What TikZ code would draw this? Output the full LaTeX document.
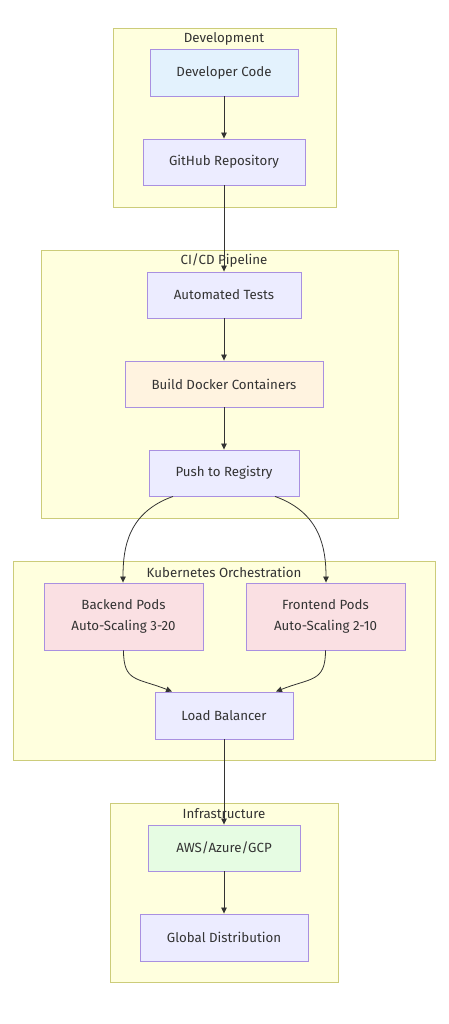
\documentclass[tikz,border=0pt]{standalone}
\usepackage{fontspec}
\setmainfont{Fira Sans}
\usetikzlibrary{arrows.meta}
\definecolor{clfill}{HTML}{FFFFDE}
\definecolor{cldraw}{HTML}{CCCC7A}
\definecolor{ndfill}{HTML}{ECECFF}
\definecolor{nddraw}{HTML}{A990E0}
\definecolor{txt}{HTML}{333333}
\definecolor{blue1}{HTML}{E3F2FD}
\definecolor{orange1}{HTML}{FFF3E0}
\definecolor{pink1}{HTML}{FAE0E3}
\definecolor{green1}{HTML}{E6FCE3}
\definecolor{edge}{HTML}{333333}
\tikzset{
  cluster/.style={draw=cldraw, fill=clfill, line width=0.9pt},
  cltitle/.style={text=txt, font=\fontsize{13.3}{15}\selectfont, anchor=center, inner sep=0pt},
  box/.style={draw=nddraw, fill=ndfill, line width=0.9pt, text=txt, font=\fontsize{13.3}{21}\selectfont, align=center, inner sep=0pt},
  conn/.style={draw=edge, line width=0.8pt, -{Triangle[length=6pt,width=5.5pt]}}
}
\begin{document}
\begin{tikzpicture}[x=1pt,y=-1pt]
\useasboundingbox (0,0) rectangle (449,1024);
% clusters
\draw[cluster] (113,28) rectangle (336,207);
\node[cltitle] (tdev) at (224,39) {Development};
\draw[cluster] (41,250) rectangle (398,518);
\node[cltitle] (tci) at (224,261) {CI/CD Pipeline};
\draw[cluster] (13,561) rectangle (435,760);
\node[cltitle] (tk8s) at (224,572) {Kubernetes Orchestration};
\draw[cluster] (110,803) rectangle (338,982);
\node[cltitle] (tinf) at (224,814) {Infrastructure};
% nodes
\node[box, fill=blue1, minimum width=148pt, minimum height=47pt] (dev) at (224,72.5) {Developer Code};
\node[box, minimum width=162pt, minimum height=46pt] (gh) at (224,162) {GitHub Repository};
\node[box, minimum width=154pt, minimum height=46pt] (test) at (224,295) {Automated Tests};
\node[box, fill=orange1, minimum width=198pt, minimum height=46pt] (build) at (224,384) {Build Docker Containers};
\node[box, minimum width=150pt, minimum height=46pt] (push) at (224,473) {Push to Registry};
\node[box, fill=pink1, minimum width=159pt, minimum height=67pt] (back) at (123.5,616.5) {Backend Pods\\Auto-Scaling 3-20};
\node[box, fill=pink1, minimum width=159pt, minimum height=67pt] (front) at (325.5,616.5) {Frontend Pods\\Auto-Scaling 2-10};
\node[box, minimum width=138pt, minimum height=47pt] (lb) at (224,715.5) {Load Balancer};
\node[box, fill=green1, minimum width=152pt, minimum height=46pt] (aws) at (224,848) {AWS/Azure/GCP};
\node[box, minimum width=168pt, minimum height=47pt] (glob) at (224,937.5) {Global Distribution};
% edges
\draw[conn] (dev.south) -- (gh.north);
\draw[conn] (gh.south) -- (test.north);
\draw[conn] (test.south) -- (build.north);
\draw[conn] (build.south) -- (push.north);
\draw[conn] ([xshift=-51pt]push.south) .. controls +(-45,16) and +(0,-35) .. ([xshift=-0.5pt]back.north);
\draw[conn] ([xshift=51pt]push.south) .. controls +(45,16) and +(0,-35) .. ([xshift=0.5pt]front.north);
\draw[conn] (back.south) .. controls +(0,32) and +(-35,-14) .. ([xshift=-52pt]lb.north);
\draw[conn] (front.south) .. controls +(0,32) and +(35,-14) .. ([xshift=52pt]lb.north);
\draw[conn] (lb.south) -- (aws.north);
\draw[conn] (aws.south) -- (glob.north);
\end{tikzpicture}
\end{document}
